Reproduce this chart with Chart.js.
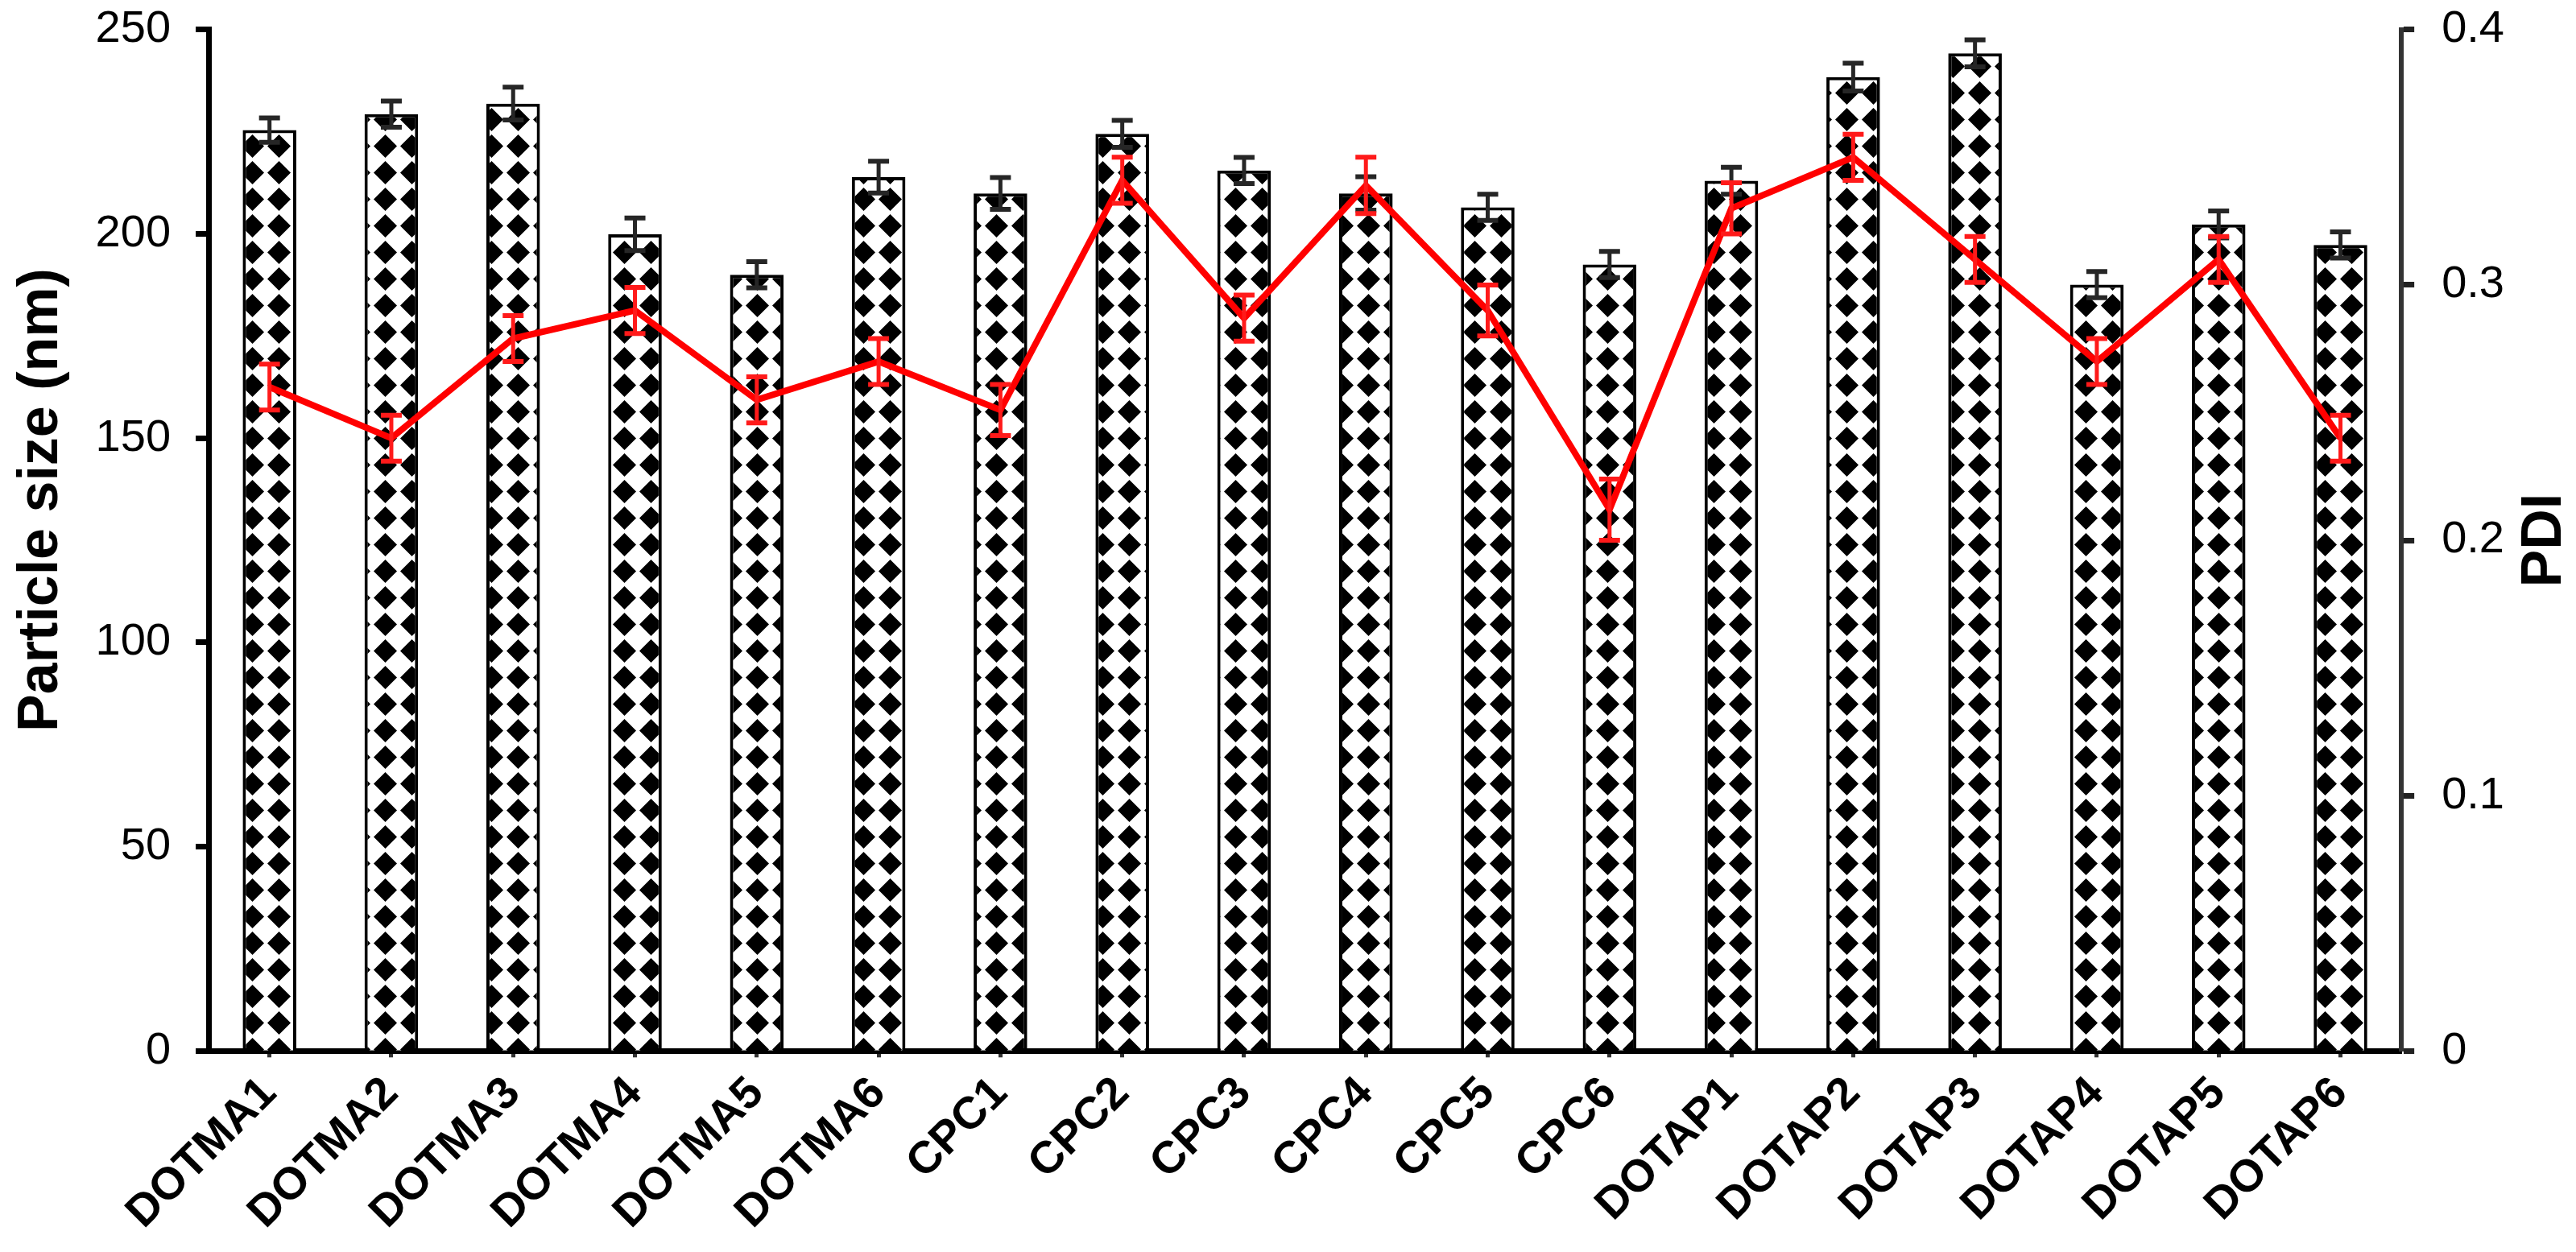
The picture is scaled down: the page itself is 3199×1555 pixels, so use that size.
<!DOCTYPE html>
<html>
<head>
<meta charset="utf-8">
<title>Particle size and PDI</title>
<script src="https://cdn.jsdelivr.net/npm/chart.js@4.4.0/dist/chart.umd.min.js"></script>
<style>
  html, body { margin: 0; padding: 0; background: #fff; }
  #wrap { width: 3199px; height: 1555px; position: relative; }
</style>
</head>
<body>
<div id="wrap"><canvas id="chart"></canvas></div>
<script>
// ── Data ────────────────────────────────────────────────────────────
const FORMULATIONS = [
  'DOTMA1', 'DOTMA2', 'DOTMA3', 'DOTMA4', 'DOTMA5', 'DOTMA6',
  'CPC1', 'CPC2', 'CPC3', 'CPC4', 'CPC5', 'CPC6',
  'DOTAP1', 'DOTAP2', 'DOTAP3', 'DOTAP4', 'DOTAP5', 'DOTAP6',
];
const PARTICLE_SIZE = [
  225.4, 229.3, 231.9, 199.9, 190.0, 213.9,
  209.9, 224.5, 215.5, 209.9, 206.5, 192.5,
  213.0, 238.4, 244.2, 187.6, 202.3, 197.3,
];
const PARTICLE_SIZE_ERR = [
  3.0, 3.2, 4.0, 4.0, 3.2, 3.9,
  3.9, 3.3, 3.2, 4.1, 3.2, 3.2,
  3.3, 3.4, 3.3, 3.2, 3.3, 3.2,
];
const PDI = [
  0.260, 0.240, 0.279, 0.290, 0.255, 0.270,
  0.251, 0.341, 0.287, 0.339, 0.290, 0.212,
  0.330, 0.350, 0.310, 0.270, 0.310, 0.240,
];
const PDI_ERR = [
  0.009, 0.009, 0.009, 0.009, 0.009, 0.009,
  0.010, 0.009, 0.009, 0.011, 0.010, 0.012,
  0.010, 0.009, 0.009, 0.009, 0.009, 0.009,
];
const SIZE_TICKS = [0, 50, 100, 150, 200, 250];
const PDI_TICKS = [0, 0.1, 0.2, 0.3, 0.4];

const FONT = "'Liberation Sans', Arial, sans-serif";

const canvas = document.getElementById('chart');

// Excel-style "solid diamond" fill for the bars
function diamondPattern(ctx) {
  const tile = document.createElement('canvas');
  tile.width = 33;
  tile.height = 33;
  const t = tile.getContext('2d');
  t.fillStyle = '#fff';
  t.fillRect(0, 0, 33, 33);
  t.fillStyle = '#000';
  t.beginPath();
  t.moveTo(16.5, 2);
  t.lineTo(31, 16.5);
  t.lineTo(16.5, 31);
  t.lineTo(2, 16.5);
  t.closePath();
  t.fill();
  return ctx.createPattern(tile, 'repeat');
}

// ── Error bars (drawn right after their own dataset) ────────────────
const errorBars = {
  id: 'errorBars',
  afterDatasetDraw(chart, args) {
    const ds = chart.data.datasets[args.index];
    if (!ds.errors) return;
    const meta = args.meta;
    const scale = chart.scales[meta.yAxisID];
    const ctx = chart.ctx;
    ctx.save();
    ctx.strokeStyle = ds.errorColor;
    meta.data.forEach((el, i) => {
      const x = el.x;
      const top = scale.getPixelForValue(ds.data[i] + ds.errors[i]);
      const bot = scale.getPixelForValue(ds.data[i] - ds.errors[i]);
      ctx.lineWidth = 5;
      ctx.beginPath();
      ctx.moveTo(x, top);
      ctx.lineTo(x, bot);
      ctx.stroke();
      ctx.lineWidth = 6;
      ctx.beginPath();
      ctx.moveTo(x - 13, top);
      ctx.lineTo(x + 13, top);
      ctx.moveTo(x - 13, bot);
      ctx.lineTo(x + 13, bot);
      ctx.stroke();
    });
    ctx.restore();
  },
};

// ── Axis titles, both reading bottom to top ─────────────────────────
// (left one sits a little above the middle, as in the original figure)
const axisTitles = {
  id: 'axisTitles',
  afterDraw(chart) {
    const ctx = chart.ctx;
    const area = chart.chartArea;
    const mid = (area.top + area.bottom) / 2;
    const draw = (text, x, y) => {
      ctx.save();
      ctx.translate(x, y);
      ctx.rotate(-Math.PI / 2);
      ctx.fillStyle = '#000';
      ctx.font = 'bold 70px ' + FONT;
      ctx.textAlign = 'center';
      ctx.textBaseline = 'middle';
      ctx.fillText(text, 0, 0);
      ctx.restore();
    };
    draw('Particle size (nm)', 52, mid - 50);
    draw('PDI', chart.width - 38, mid);
  },
};

new Chart(canvas, {
  type: 'bar',
  data: {
    labels: FORMULATIONS,
    datasets: [
      {
        type: 'line',
        label: 'PDI',
        data: PDI,
        errors: PDI_ERR,
        errorColor: '#FF1A1A',
        yAxisID: 'y1',
        borderColor: '#FF0000',
        borderWidth: 8,
        tension: 0,
        pointRadius: 0,
        fill: false,
        order: 0,
      },
      {
        label: 'Particle size (nm)',
        data: PARTICLE_SIZE,
        errors: PARTICLE_SIZE_ERR,
        errorColor: '#262626',
        yAxisID: 'y',
        backgroundColor: diamondPattern(canvas.getContext('2d')),
        borderColor: '#000',
        borderWidth: 4,
        barPercentage: 0.44,
        categoryPercentage: 1,
        order: 1,
      },
    ],
  },
  options: {
    responsive: true,
    maintainAspectRatio: false,
    devicePixelRatio: 1,
    animation: false,
    layout: { padding: { left: 87.6, right: 55, top: 0, bottom: 3 } },
    plugins: {
      legend: { display: false },
      tooltip: { enabled: false },
    },
    scales: {
      x: {
        offset: true,
        border: { display: true, color: '#000', width: 7 },
        grid: {
          display: true,
          offset: false,
          drawOnChartArea: false,
          drawTicks: true,
          tickLength: 8,
          tickWidth: 5,
          tickColor: '#333',
        },
        ticks: {
          color: '#000',
          font: { family: FONT, size: 56, weight: 'bold' },
          minRotation: 45,
          maxRotation: 45,
          padding: 12,
          autoSkip: false,
        },
      },
      y: {
        position: 'left',
        min: 0,
        max: 250,
        afterBuildTicks: axis => { axis.ticks = SIZE_TICKS.map(v => ({ value: v })); },
        border: { display: true, color: '#000', width: 7 },
        grid: {
          display: true,
          drawOnChartArea: false,
          drawTicks: true,
          tickLength: 16,
          tickWidth: 7,
          tickColor: '#000',
        },
        ticks: {
          color: '#000',
          font: { family: FONT, size: 56, lineHeight: 0.1 },
          padding: 31,
        },
      },
      y1: {
        position: 'right',
        min: 0,
        max: 0.4,
        afterBuildTicks: axis => { axis.ticks = PDI_TICKS.map(v => ({ value: v })); },
        border: { display: true, color: '#333', width: 6 },
        grid: {
          display: true,
          drawOnChartArea: false,
          drawTicks: true,
          tickLength: 16,
          tickWidth: 7,
          tickColor: '#222',
        },
        ticks: {
          color: '#000',
          font: { family: FONT, size: 56, lineHeight: 0.1 },
          padding: 34,
          callback: v => (v === 0 ? '0' : v.toFixed(1)),
        },
      },
    },
  },
  plugins: [errorBars, axisTitles],
});
</script>
</body>
</html>
